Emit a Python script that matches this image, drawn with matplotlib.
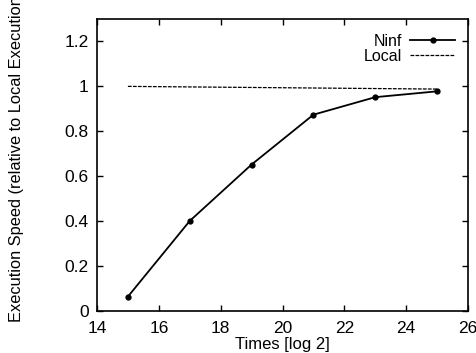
import matplotlib
matplotlib.use("Agg")
import matplotlib.pyplot as plt

plt.rcParams['font.family'] = ['Liberation Sans', 'DejaVu Sans']

ninf_x = [15, 17, 19, 21, 23, 25]
ninf_y = [0.064, 0.401, 0.652, 0.874, 0.952, 0.978]
local_x = [15, 25]
local_y = [1.0, 0.988]
xticks = [14, 16, 18, 20, 22, 24, 26]
yticks = [0, 0.2, 0.4, 0.6, 0.8, 1.0, 1.2]
ytick_labels = ['0', '0.2', '0.4', '0.6', '0.8', '1', '1.2']

fig = plt.figure(figsize=(4.77, 3.53), dpi=100)
ax = fig.add_axes([97/477, 1 - 311/353, (468-97)/477, (311-19)/353])

ax.plot(ninf_x, ninf_y, color='black', lw=1.3, marker='o', ms=3.5, label='Ninf')
ax.plot(local_x, local_y, color='black', lw=0.9, ls=(0, (3, 1)), label='Local')

ax.set_xlim(14, 26)
ax.set_ylim(0, 1.3)
ax.set_xticks(xticks)
ax.set_yticks(yticks)
ax.set_yticklabels(ytick_labels)
ax.tick_params(direction='in', top=True, right=True, length=4, width=1, labelsize=12.5)
ax.tick_params(axis='x', pad=7)
ax.tick_params(axis='y', pad=6)
for s in ax.spines.values():
    s.set_linewidth(1.2)

ax.set_xlabel('Times [log 2]', fontsize=12, labelpad=1)
fig.text(17/477, 31/353, 'Execution Speed (relative to Local Execution)', rotation=90,
         va='bottom', ha='center', fontsize=11.8)

leg = ax.legend(loc='upper right', bbox_to_anchor=((455-97)/371, (311-34)/292),
                frameon=False, markerfirst=False, fontsize=11.5,
                handlelength=2.8, borderaxespad=0, borderpad=0,
                labelspacing=0.0, handletextpad=0.5)

fig.savefig('out.png', dpi=100)
